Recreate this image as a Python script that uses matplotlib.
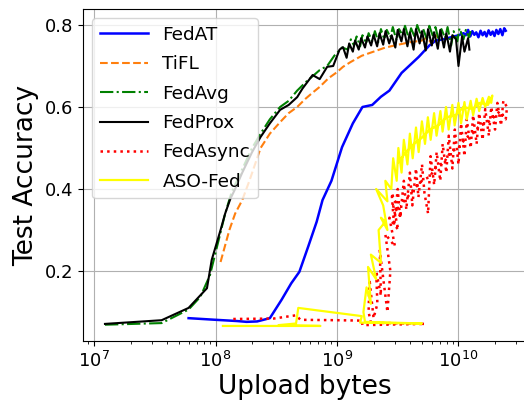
import matplotlib
matplotlib.use("Agg")
import matplotlib.pyplot as plt

# upload bytes vs test accuracy

fedat_x = [6.0e7, 1.0e8, 1.5e8, 1.8e8, 2.2e8, 2.8e8, 3.5e8, 4.2e8, 4.9e8, 5.8e8,
           6.8e8, 7.6e8, 9.0e8, 1.1e9, 1.35e9, 1.62e9, 1.95e9, 2.3e9, 2.7e9, 3.4e9,
           4.7e9, 5.8e9, 6.5e9, 7.5e9, 1.0e10,
           1.1e10, 1.15e10, 1.2e10, 1.25e10, 1.3e10, 1.35e10, 1.4e10, 1.46e10, 1.52e10, 1.58e10,
           1.64e10, 1.7e10, 1.77e10, 1.84e10, 1.91e10, 1.98e10, 2.05e10, 2.13e10, 2.21e10, 2.3e10,
           2.38e10, 2.45e10]
fedat_y = [0.085, 0.081, 0.078, 0.076, 0.077, 0.085, 0.130, 0.170, 0.198, 0.260,
           0.320, 0.373, 0.420, 0.502, 0.560, 0.600, 0.605, 0.625, 0.640, 0.683,
           0.722, 0.751, 0.762, 0.765, 0.775,
           0.780, 0.775, 0.788, 0.772, 0.785, 0.776, 0.782, 0.770, 0.786, 0.775,
           0.783, 0.772, 0.787, 0.776, 0.784, 0.773, 0.788, 0.778, 0.790, 0.775,
           0.792, 0.786]

tifl_x = [1.1e8, 1.3e8, 1.45e8, 1.66e8, 1.9e8, 2.35e8, 2.8e8, 3.4e8, 4.0e8, 4.7e8,
          5.5e8, 6.3e8, 7.2e8, 8.5e8, 1.0e9, 1.12e9, 1.3e9, 1.6e9, 2.0e9, 2.5e9,
          3.2e9, 4.0e9, 5.0e9, 5.5e9, 6.0e9, 6.5e9, 7.1e9]
tifl_y = [0.222, 0.300, 0.340, 0.373, 0.420, 0.500, 0.535, 0.563, 0.585, 0.600,
          0.620, 0.635, 0.649, 0.670, 0.685, 0.698, 0.710, 0.725, 0.735, 0.745,
          0.752, 0.758, 0.762, 0.770, 0.755, 0.775, 0.765]

fedavg_x = [1.23e7, 3.6e7, 6.0e7, 7.5e7, 9.0e7, 1.05e8, 1.2e8, 1.35e8, 1.5e8, 1.7e8,
            2.0e8, 2.35e8, 2.8e8, 3.4e8, 4.0e8, 4.7e8, 5.5e8, 6.3e8, 7.2e8, 8.3e8,
            9.5e8, 1.1e9,
            1.23e9, 1.3e9, 1.38e9, 1.45e9, 1.55e9, 1.62e9, 1.74e9, 1.82e9, 1.95e9, 2.05e9,
            2.19e9, 2.3e9, 2.45e9, 2.57e9, 2.75e9, 2.88e9, 3.09e9, 3.24e9, 3.47e9, 3.63e9,
            3.89e9, 4.07e9, 4.37e9, 4.57e9, 4.9e9, 5.13e9, 5.5e9, 5.75e9, 6.17e9, 6.46e9,
            6.92e9, 7.24e9, 7.76e9, 8.13e9, 8.7e9, 9.12e9, 9.77e9, 1.02e10, 1.1e10, 1.15e10,
            1.22e10, 1.26e10]
fedavg_y = [0.069, 0.073, 0.106, 0.137, 0.190, 0.270, 0.340, 0.390, 0.420, 0.455,
            0.500, 0.535, 0.570, 0.600, 0.615, 0.640, 0.660, 0.675, 0.690, 0.700,
            0.725, 0.745,
            0.740, 0.765, 0.750, 0.772, 0.748, 0.775, 0.755, 0.780, 0.760, 0.785,
            0.758, 0.790, 0.765, 0.788, 0.770, 0.795, 0.762, 0.790, 0.775, 0.798,
            0.768, 0.792, 0.770, 0.800, 0.775, 0.790, 0.765, 0.798, 0.772, 0.795,
            0.760, 0.790, 0.768, 0.795, 0.750, 0.785, 0.760, 0.792, 0.765, 0.788,
            0.770, 0.785]

fedprox_x = [1.23e7, 3.6e7, 6.0e7, 8.5e7, 9.3e7, 1.1e8, 1.2e8, 1.32e8, 1.45e8, 1.66e8,
             2.0e8, 2.35e8, 2.8e8, 3.4e8, 4.0e8, 4.7e8, 5.2e8, 6.3e8, 7.2e8, 8.3e8,
             9.3e8, 1.05e9, 1.12e9,
             1.20e9, 1.26e9, 1.35e9, 1.41e9, 1.51e9, 1.58e9, 1.70e9, 1.78e9, 1.91e9, 2.00e9,
             2.14e9, 2.24e9, 2.40e9, 2.51e9, 2.69e9, 2.82e9, 3.02e9, 3.16e9, 3.39e9, 3.55e9,
             3.80e9, 3.98e9, 4.27e9, 4.47e9, 4.79e9, 5.01e9, 5.37e9, 5.62e9, 6.03e9, 6.31e9,
             6.76e9, 7.08e9, 7.59e9, 7.94e9, 8.51e9, 8.91e9, 9.55e9, 1.00e10, 1.07e10, 1.12e10,
             1.20e10, 1.23e10]
fedprox_y = [0.071, 0.080, 0.110, 0.158, 0.227, 0.300, 0.340, 0.375, 0.400, 0.440,
             0.490, 0.527, 0.560, 0.593, 0.605, 0.624, 0.645, 0.678, 0.668, 0.698,
             0.700, 0.740, 0.746,
             0.720, 0.755, 0.735, 0.762, 0.740, 0.768, 0.745, 0.772, 0.750, 0.776,
             0.748, 0.780, 0.752, 0.785, 0.755, 0.775, 0.745, 0.788, 0.760, 0.790,
             0.748, 0.782, 0.740, 0.790, 0.755, 0.785, 0.738, 0.790, 0.750, 0.782,
             0.742, 0.788, 0.745, 0.780, 0.735, 0.775, 0.765, 0.700, 0.772, 0.735,
             0.768, 0.740]

# FedAsync: flat start, vertical strands, then a wide noisy band (x goes back and forth)
fedasync_x = [1.4e8, 3.0e8, 4.6e8, 5.0e8, 1.0e9, 1.6e9, 1.62e9, 5.3e9, 1.9e9,
              1.82e9, 1.85e9, 2.0e9, 2.15e9, 2.1e9, 2.3e9, 2.25e9, 2.6e9, 2.75e9, 2.5e9,
              3.0e9, 2.7e9, 3.2e9, 2.9e9, 3.4e9,
              2.82e9, 2.95e9, 3.16e9, 3.31e9, 3.55e9, 3.72e9, 3.98e9, 4.17e9, 4.47e9, 4.68e9,
              5.01e9, 5.25e9, 5.62e9, 5.89e9, 6.31e9, 6.61e9, 7.08e9, 7.41e9, 7.94e9, 8.32e9,
              8.91e9, 9.33e9, 1.0e10, 1.05e10, 1.12e10, 1.17e10, 1.26e10, 1.32e10, 1.41e10, 1.48e10,
              1.58e10, 1.66e10, 1.78e10, 1.86e10, 2.0e10, 2.09e10, 2.24e10, 2.34e10, 2.51e10,
              2.45e10, 2.2e10, 1.95e10, 1.7e10, 1.5e10, 1.3e10, 1.15e10, 1.0e10, 8.6e9, 7.6e9,
              6.6e9, 5.8e9, 5.0e9, 4.3e9, 3.8e9, 3.3e9]
fedasync_y = [0.083, 0.084, 0.092, 0.081, 0.080, 0.079, 0.068, 0.071, 0.074,
              0.100, 0.180, 0.085, 0.120, 0.200, 0.140, 0.250, 0.100, 0.200, 0.290,
              0.260, 0.330, 0.300, 0.360, 0.330,
              0.390, 0.310, 0.400, 0.330, 0.420, 0.350, 0.440, 0.360, 0.450, 0.380,
              0.460, 0.390, 0.340, 0.480, 0.410, 0.490, 0.420, 0.510, 0.440, 0.530,
              0.450, 0.545, 0.460, 0.560, 0.480, 0.570, 0.500, 0.580, 0.510, 0.585,
              0.520, 0.595, 0.530, 0.600, 0.545, 0.610, 0.555, 0.615, 0.600,
              0.570, 0.590, 0.575, 0.560, 0.555, 0.535, 0.525, 0.500, 0.490, 0.465,
              0.455, 0.430, 0.420, 0.400, 0.380, 0.360]

# ASO-Fed: flat start, climb around 2e9, then a narrower band above FedAsync
asofed_x = [1.15e8, 7.3e8, 3.3e8, 4.6e8, 4.8e8, 1.6e9, 1.55e9, 5.0e9, 1.7e9, 1.65e9,
            1.75e9, 1.9e9, 1.8e9, 2.1e9, 1.9e9, 2.3e9, 2.2e9, 2.5e9, 2.3e9, 2.6e9,
            2.4e9, 2.1e9, 2.6e9, 2.5e9,
            2.8e9, 2.9e9, 3.1e9, 3.2e9, 3.4e9, 3.55e9, 3.8e9, 3.98e9, 4.2e9, 4.47e9,
            4.7e9, 5.0e9, 5.3e9, 5.6e9, 5.9e9, 6.3e9, 6.6e9, 7.1e9, 7.4e9, 7.9e9,
            8.3e9, 8.9e9, 9.3e9, 1.0e10, 1.05e10, 1.12e10, 1.17e10, 1.26e10, 1.32e10, 1.41e10,
            1.48e10, 1.58e10, 1.66e10, 1.78e10, 1.86e10, 1.9e10,
            1.75e10, 1.5e10, 1.3e10, 1.1e10, 9.5e9, 8.0e9, 6.8e9, 5.8e9, 5.0e9, 4.3e9,
            3.7e9, 3.2e9]
asofed_y = [0.066, 0.066, 0.068, 0.072, 0.110, 0.090, 0.074, 0.072, 0.076, 0.100,
            0.160, 0.120, 0.210, 0.180, 0.240, 0.220, 0.300, 0.320, 0.330, 0.300,
            0.360, 0.400, 0.370, 0.420,
            0.400, 0.475, 0.420, 0.500, 0.440, 0.520, 0.460, 0.535, 0.475, 0.550,
            0.490, 0.565, 0.510, 0.575, 0.520, 0.585, 0.530, 0.590, 0.540, 0.600,
            0.545, 0.605, 0.555, 0.610, 0.560, 0.612, 0.570, 0.615, 0.580, 0.620,
            0.590, 0.622, 0.600, 0.625, 0.610, 0.628,
            0.605, 0.610, 0.595, 0.600, 0.580, 0.575, 0.555, 0.545, 0.525, 0.510,
            0.490, 0.465]


def main():
    fig = plt.figure(figsize=(5.24, 4.0), dpi=100)
    ax = fig.add_axes([0.1584, 0.1475, 0.8473, 0.83])

    ax.plot(fedat_x, fedat_y, color='blue', lw=1.8, label='FedAT')
    ax.plot(tifl_x, tifl_y, color='#ff7f0e', ls='--', lw=1.5, label='TiFL')
    ax.plot(fedavg_x, fedavg_y, color='green', ls='-.', lw=1.5, label='FedAvg')
    ax.plot(fedprox_x, fedprox_y, color='black', lw=1.5, label='FedProx')
    ax.plot(fedasync_x, fedasync_y, color='red', ls=':', lw=1.8, label='FedAsync')
    ax.plot(asofed_x, asofed_y, color='yellow', lw=1.6, label='ASO-Fed')

    ax.set_xscale('log')
    ax.set_xlim(10 ** 6.909, 10 ** 10.564)
    ax.set_ylim(0.0293, 0.839)
    ax.set_yticks([0.2, 0.4, 0.6, 0.8])
    ax.grid(True, which='major')
    ax.tick_params(labelsize=13)
    ax.set_xlabel('Upload bytes', fontsize=19, labelpad=2)
    ax.set_ylabel('Test Accuracy', fontsize=19)
    ax.legend(loc='upper left', fontsize=13.3, handlelength=2.6, labelspacing=0.62)

    fig.savefig('out.png', dpi=100)


if __name__ == '__main__':
    main()
